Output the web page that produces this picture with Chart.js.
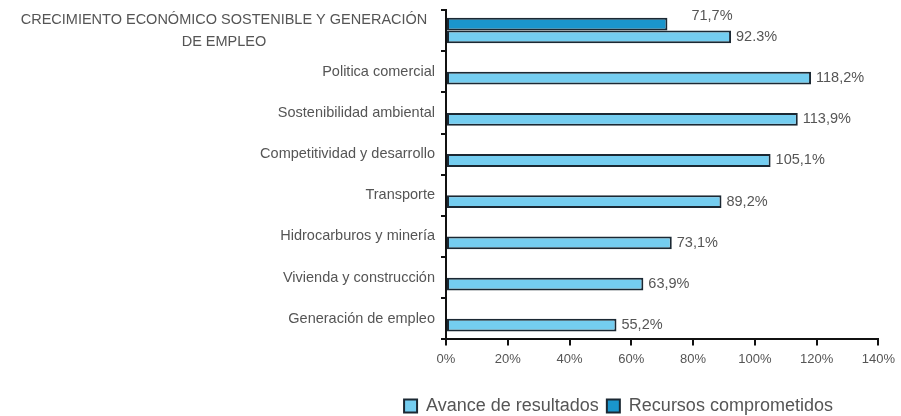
<!DOCTYPE html>
<html>
<head>
<meta charset="utf-8">
<script src="https://cdn.jsdelivr.net/npm/chart.js@4"></script>
<style>
  html, body { margin: 0; padding: 0; background: #fff; }
  #wrap { width: 901px; height: 416px; }
</style>
</head>
<body>
<div id="wrap"><canvas id="chart" width="901" height="416"></canvas></div>
<script>
// data
const categories = [
    ['CRECIMIENTO ECONÓMICO SOSTENIBLE Y GENERACIÓN', 'DE EMPLEO'],
    'Politica comercial',
    'Sostenibilidad ambiental',
    'Competitividad y desarrollo',
    'Transporte',
    'Hidrocarburos y minería',
    'Vivienda y construcción',
    'Generación de empleo'
];
const avance = [92.3, 118.2, 113.9, 105.1, 89.2, 73.1, 63.9, 55.2];
const avanceText = ['92.3%', '118,2%', '113,9%', '105,1%', '89,2%', '73,1%', '63,9%', '55,2%'];
const recursos = [71.7, null, null, null, null, null, null, null];
const recursosText = ['71,7%', '', '', '', '', '', '', ''];
const xTicks = [0, 20, 40, 60, 80, 100, 120, 140];

const FONT = "'Liberation Sans', Arial, sans-serif";
const GREY = '#555';
const EDGE = '#1b2833';

// draws the value next to each bar
const valueLabels = {
    id: 'valueLabels',
    afterDatasetsDraw(chart) {
        const ctx = chart.ctx;
        ctx.save();
        ctx.font = '14.5px ' + FONT;
        ctx.fillStyle = GREY;
        ctx.textAlign = 'left';
        ctx.textBaseline = 'middle';
        chart.data.datasets.forEach((ds, i) => {
            const meta = chart.getDatasetMeta(i);
            meta.data.forEach((bar, j) => {
                if (ds.data[j] == null) return;
                const dx = ds.labelShift ? ds.labelShift[0] : 5;
                const dy = ds.labelShift ? ds.labelShift[1] : 0;
                ctx.fillText(ds.texts[j], bar.x + dx, bar.y + dy);
            });
        });
        ctx.restore();
    }
};

// first category label is centred on two lines, the rest are right aligned
const firstLabel = {
    id: 'firstLabel',
    afterDraw(chart) {
        const y = chart.scales.y;
        const cy = y.getPixelForValue(0);
        const ctx = chart.ctx;
        ctx.save();
        ctx.font = '14.5px ' + FONT;
        ctx.fillStyle = GREY;
        ctx.textAlign = 'center';
        ctx.textBaseline = 'middle';
        const cx = 224;
        ctx.fillText(categories[0][0], cx, cy - 11);
        ctx.fillText(categories[0][1], cx, cy + 11);
        ctx.restore();
    }
};

// legend sits to the right of the centre and a bit lower
const legendShift = {
    id: 'legendShift',
    afterLayout(chart) {
        chart.legend.left += 168;
        chart.legend.right += 168;
        chart.legend.top += 16;
        chart.legend.bottom += 16;
    }
};

new Chart(document.getElementById('chart'), {
    type: 'bar',
    data: {
        labels: categories,
        datasets: [
            {
                label: 'Recursos comprometidos',
                data: recursos,
                texts: recursosText,
                labelShift: [24, -8],
                backgroundColor: '#1a95cc',
                borderColor: EDGE,
                borderWidth: 2,
                borderSkipped: false
            },
            {
                label: 'Avance de resultados',
                data: avance,
                texts: avanceText,
                backgroundColor: '#74cdf0',
                borderColor: EDGE,
                borderWidth: 2,
                borderSkipped: false
            }
        ]
    },
    options: {
        indexAxis: 'y',
        responsive: false,
        animation: false,
        categoryPercentage: 0.62,
        barPercentage: 1,
        layout: { padding: { top: 10, right: 0, bottom: 7, left: 0 } },
        scales: {
            x: {
                min: 0,
                max: 140,
                afterBuildTicks(scale) {
                    scale.ticks = xTicks.map(v => ({ value: v }));
                },
                ticks: {
                    callback: v => v + '%',
                    color: GREY,
                    font: { family: FONT, size: 13 },
                    padding: 6,
                    maxRotation: 0
                },
                grid: {
                    drawOnChartArea: false,
                    color: '#111',
                    lineWidth: 2,
                    tickLength: 6
                },
                border: { color: '#111', width: 2 }
            },
            y: {
                afterFit(scale) {
                    scale.width = 446;
                    scale.paddingTop = 0;
                    scale.paddingBottom = 0;
                },
                ticks: {
                    callback: (v, i) => i === 0 ? '' : categories[i],
                    color: GREY,
                    font: { family: FONT, size: 14.5 },
                    padding: 6
                },
                grid: {
                    offset: true,
                    drawOnChartArea: false,
                    color: '#111',
                    lineWidth: 2,
                    tickLength: 5
                },
                border: { color: '#111', width: 2 }
            }
        },
        plugins: {
            legend: {
                position: 'bottom',
                reverse: true,
                labels: {
                    color: GREY,
                    font: { family: FONT, size: 18 },
                    boxWidth: 13,
                    boxHeight: 13,
                    padding: 8,
                    generateLabels(chart) {
                        return chart.data.datasets.map((ds, i) => ({
                            text: ds.label,
                            fillStyle: ds.backgroundColor,
                            strokeStyle: EDGE,
                            lineWidth: 2,
                            fontColor: GREY,
                            datasetIndex: i
                        }));
                    }
                }
            },
            tooltip: { enabled: false }
        }
    },
    plugins: [valueLabels, firstLabel, legendShift]
});
</script>
</body>
</html>
